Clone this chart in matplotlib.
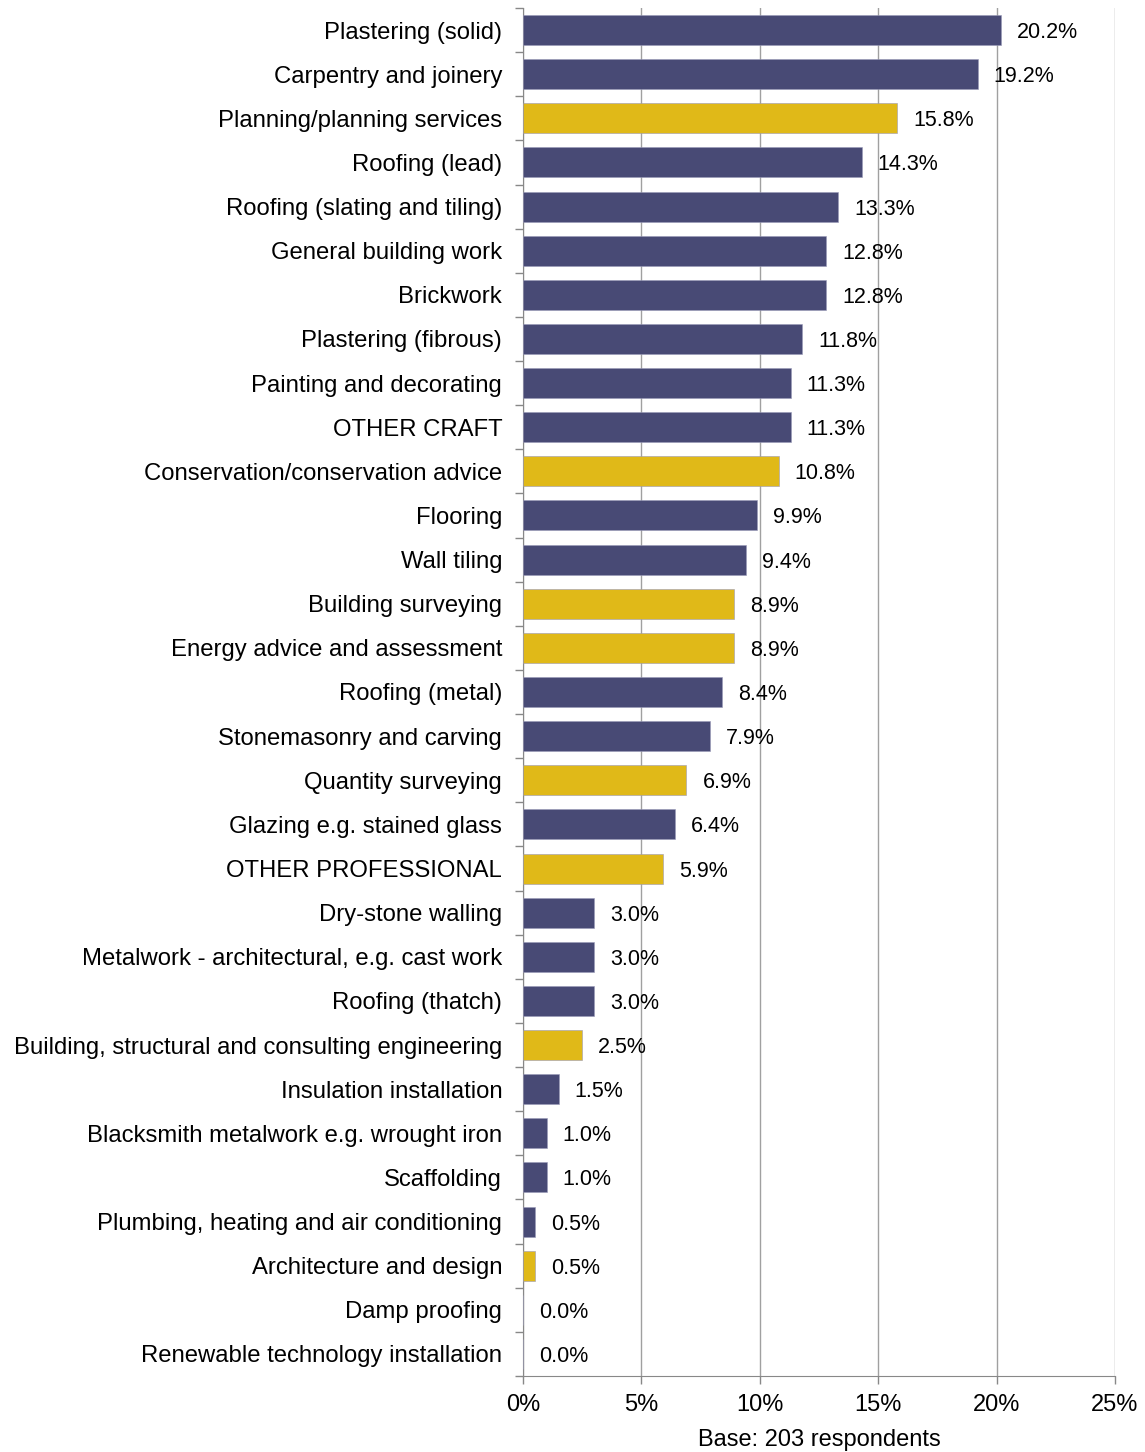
import matplotlib
matplotlib.use("Agg")
import matplotlib.pyplot as plt
from matplotlib.ticker import FuncFormatter
from matplotlib.transforms import offset_copy

plt.rcParams['font.family'] = ['Liberation Sans', 'DejaVu Sans']

categories = [
    "Plastering (solid)", "Carpentry and joinery", "Planning/planning services",
    "Roofing (lead)", "Roofing (slating and tiling)", "General building work",
    "Brickwork", "Plastering (fibrous)", "Painting and decorating", "OTHER CRAFT",
    "Conservation/conservation advice", "Flooring", "Wall tiling",
    "Building surveying", "Energy advice and assessment", "Roofing (metal)",
    "Stonemasonry and carving", "Quantity surveying", "Glazing e.g. stained glass",
    "OTHER PROFESSIONAL", "Dry-stone walling", "Metalwork - architectural, e.g. cast work",
    "Roofing (thatch)", "Building, structural and consulting engineering",
    "Insulation installation", "Blacksmith metalwork e.g. wrought iron", "Scaffolding",
    "Plumbing, heating and air conditioning", "Architecture and design",
    "Damp proofing", "Renewable technology installation",
]
values = [20.2, 19.2, 15.8, 14.3, 13.3, 12.8, 12.8, 11.8, 11.3, 11.3, 10.8, 9.9, 9.4,
          8.9, 8.9, 8.4, 7.9, 6.9, 6.4, 5.9, 3.0, 3.0, 3.0, 2.5, 1.5, 1.0, 1.0, 0.5,
          0.5, 0.0, 0.0]
# "P" = professional service, "C" = craft trade
group = ["C", "C", "P", "C", "C", "C", "C", "C", "C", "C", "P", "C", "C", "P", "P",
         "C", "C", "P", "C", "P", "C", "C", "C", "P", "C", "C", "C", "C", "P", "C", "C"]
xticks = [0, 5, 10, 15, 20, 25]
base_note = "Base: 203 respondents"

colors = {"C": "#484A75", "P": "#E0B918"}

fig = plt.figure(figsize=(11.45, 14.52), dpi=100)
ax = fig.add_axes([523 / 1145, 1 - 1376 / 1452, (1115 - 523) / 1145, (1376 - 8) / 1452])

n = len(categories)
ypos = list(range(n))
ax.barh(ypos, values, height=0.68, color=[colors[g] for g in group],
        edgecolor="#9a9ab8", linewidth=0.4, zorder=3)

label_tf = offset_copy(ax.transData, fig=fig, x=16, y=0, units="dots")
for y, v in zip(ypos, values):
    ax.text(v, y, f"{v:.1f}%", transform=label_tf, va="center_baseline", ha="left",
            fontsize=15.5, color="black", zorder=4)

ax.set_ylim(n - 0.5, -0.5)
ax.set_xlim(0, 25)
ax.set_xticks(xticks)
ax.xaxis.set_major_formatter(FuncFormatter(lambda x, p: f"{x:.0f}%"))
ax.set_yticks(ypos)
ax.set_yticklabels(categories, fontsize=17.2)
ax.set_yticks([i - 0.5 for i in range(n + 1)], minor=True)
ax.tick_params(axis="y", which="major", length=0, pad=15)
ax.tick_params(axis="y", which="minor", length=6, color="#888888", width=1)
ax.tick_params(axis="x", length=6, color="#888888", width=1, labelsize=17, pad=7)

ax.grid(axis="x", color="#a0a0a0", linewidth=1, zorder=0)
for s in ["top", "right"]:
    ax.spines[s].set_visible(False)
ax.spines["left"].set_color("#888888")
ax.spines["bottom"].set_color("#888888")

ax.set_xlabel(base_note, fontsize=17)
ax.xaxis.set_label_coords((819 - 523) / (1115 - 523), -(1452 - 1376 - 1) / 1368)
ax.xaxis.label.set_verticalalignment("bottom")

fig.savefig("out.png", dpi=100)
